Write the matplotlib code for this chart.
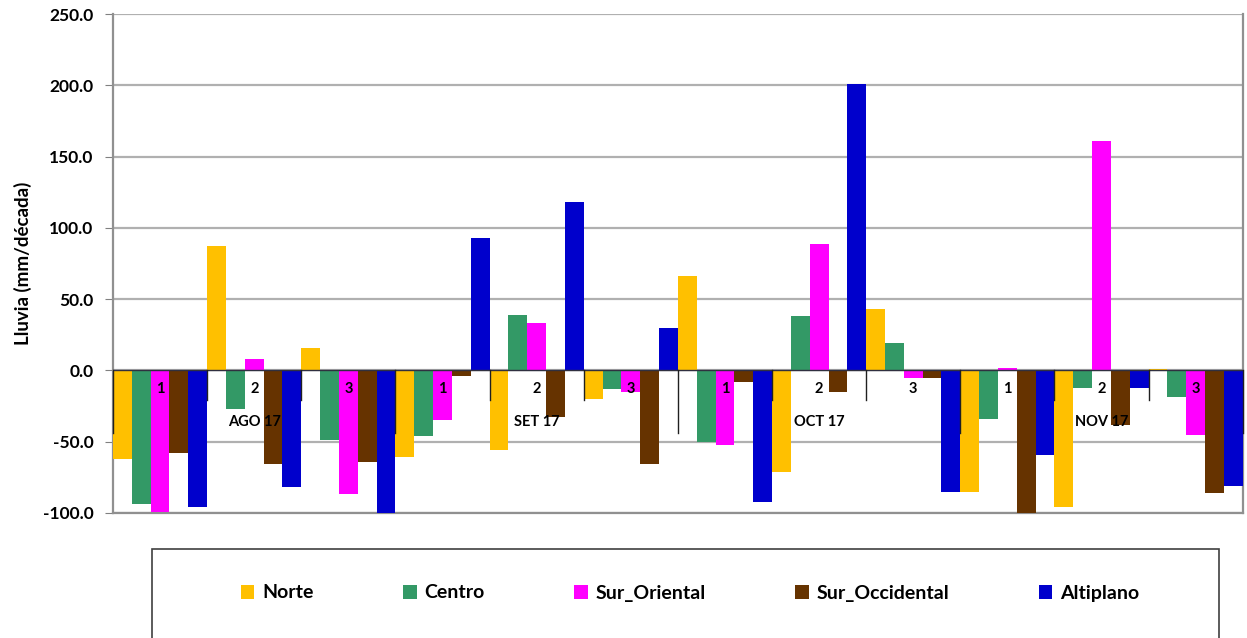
import numpy as np
import matplotlib.pyplot as plt
from matplotlib.patches import Rectangle

# Lluvia por década (mm/década), anomalías por región
months = ["AGO 17", "SET 17", "OCT 17", "NOV 17"]
decades = ["1", "2", "3"] * 4

norte = [-62, 87, 16, -61, -56, -20, 66, -71, 43, -85, -96, 1]
centro = [-94, -27, -49, -46, 39, -13, -50, 38, 19, -34, -12, -19]
sur_oriental = [-99, 8, -87, -35, 33, -15, -52, 89, -5, 2, 161, -45]
sur_occidental = [-58, -66, -64, -4, -33, -66, -8, -15, -5, -100, -38, -86]
altiplano = [-96, -82, -100, 93, 118, 30, -92, 201, -85, -59, -12, -81]

series = [norte, centro, sur_oriental, sur_occidental, altiplano]
names = ["Norte", "Centro", "Sur_Oriental", "Sur_Occidental", "Altiplano"]
colors = ["#FFC000", "#339966", "#FF00FF", "#663300", "#0000CC"]

plt.rcParams['font.family'] = ['Lato', 'DejaVu Sans']
plt.rcParams['font.weight'] = 'bold'

fig = plt.figure(figsize=(12.47, 6.38), dpi=100)
ax = fig.add_axes([0.0906, 0.196, 0.906, 0.782])

x = np.arange(len(decades))
w = 0.2
for j, (vals, name, col) in enumerate(zip(series, names, colors)):
    ax.bar(x + (j - 2) * w, vals, width=w, color=col, label=name, zorder=3)

ax.set_xlim(-0.5, len(decades) - 0.5)
ax.set_ylim(-100, 250)
ax.set_yticks(np.arange(-100, 251, 50))
ax.set_yticklabels([f"{v:.1f}" for v in np.arange(-100, 251, 50)],
                   fontsize=12.5, fontweight='bold')
ax.yaxis.grid(True, color="#B0B0B0", linewidth=1.6, zorder=0)
ax.set_xticks([])
ax.tick_params(axis='y', length=6, color="#808080", pad=8)

for s in ["left", "bottom", "right"]:
    ax.spines[s].set_color("#909090")
    ax.spines[s].set_linewidth(1.6)
ax.spines["top"].set_visible(False)

ax.set_ylabel("Lluvia (mm/década)", fontsize=13.5, fontweight='bold', labelpad=8)

# eje de categorias en cero
ax.axhline(0, color="#303040", linewidth=1.0, zorder=4)
for b in range(len(decades) + 1):
    low = -44 if b % 3 == 0 else -21
    ax.plot([b - 0.5, b - 0.5], [0, low], color="#202020", linewidth=1.0,
            zorder=5, clip_on=False)
for i, d in enumerate(decades):
    ax.text(i, -13, d, ha='center', va='center', fontsize=10.5,
            fontweight='bold', zorder=6)
for m, name in enumerate(months):
    ax.text(m * 3 + 1, -36, name, ha='center', va='center', fontsize=10.5,
            fontweight='bold', zorder=6)

# leyenda
fig.patches.append(Rectangle((152 / 1247, -0.05), (1219 - 152) / 1247, 0.05 + 89 / 638,
                             transform=fig.transFigure, fill=False,
                             edgecolor="#404040", linewidth=1.2))
fig.legend(loc='center', bbox_to_anchor=(690 / 1247, 45 / 638), ncol=5,
           frameon=False, handlelength=0.7, handleheight=0.7,
           handletextpad=0.4, columnspacing=4.6,
           prop={'weight': 'bold', 'size': 14})

fig.savefig("out.png", dpi=100)
